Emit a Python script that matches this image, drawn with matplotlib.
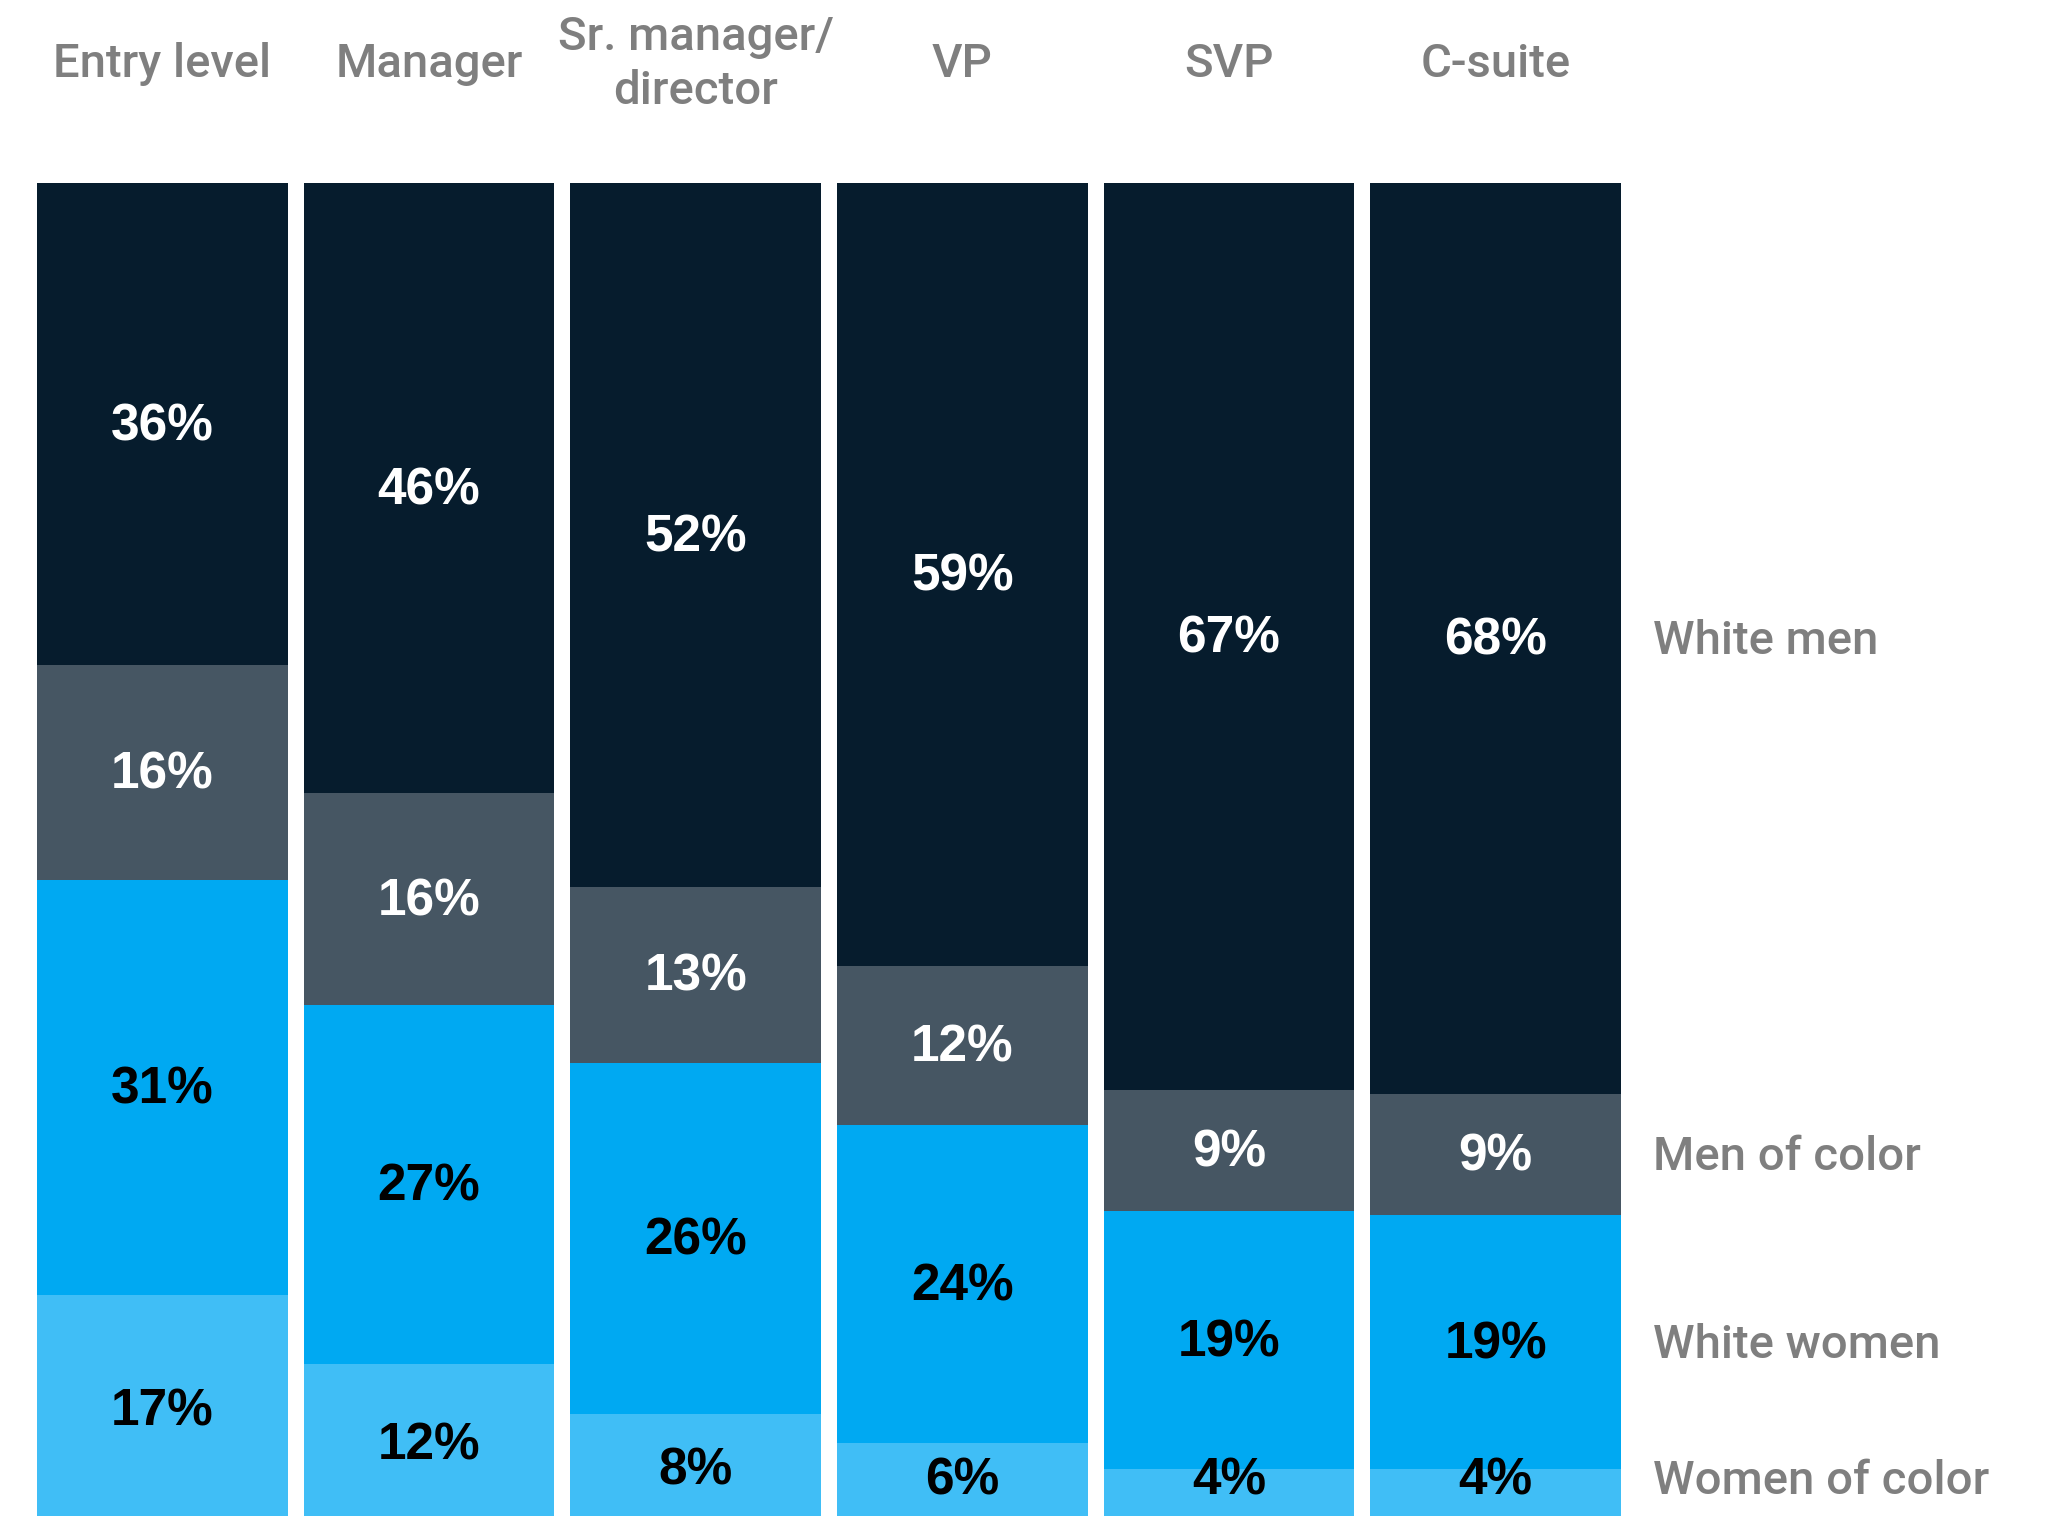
import matplotlib
matplotlib.use("Agg")
import matplotlib.pyplot as plt
import numpy as np

categories = ["Entry level", "Manager", "Sr. manager/\ndirector", "VP", "SVP", "C-suite"]
series_names = ["White men", "Men of color", "White women", "Women of color"]
white_men = [36, 46, 52, 59, 67, 68]
men_of_color = [16, 16, 13, 12, 9, 9]
white_women = [31, 27, 26, 24, 19, 19]
women_of_color = [17, 12, 8, 6, 4, 4]

colors = ["#061c2d", "#465663", "#00a9f2", "#40bef6"]
text_colors = ["white", "white", "black", "black"]
gray = "#7f7f7f"

plt.rcParams['font.family'] = ['Roboto', 'DejaVu Sans']

fig = plt.figure(figsize=(20.45, 15.16), dpi=100)
W, H = 2045, 1516
left_px, right_px, top_px = 37, 1621, 183
ax = fig.add_axes([left_px / W, 0, (right_px - left_px) / W, 1 - top_px / H])

data = np.array([white_men, men_of_color, white_women, women_of_color], dtype=float)
data = data / data.sum(axis=0) * 100  # 100% stacked
labels = np.array([white_men, men_of_color, white_women, women_of_color])
x = np.arange(len(categories))
bw = 0.94
max_label_y = 96.9  # keep labels inside the visible (cropped) area
bottom = np.zeros(len(categories))
for i in range(4):
    ax.bar(x, data[i], bottom=bottom, width=bw, color=colors[i], linewidth=0)
    for j in range(len(categories)):
        ly = min(bottom[j] + data[i][j] / 2 + 0.2, max_label_y)
        ax.text(x[j], ly, f"{labels[i][j]}%", ha="center", va="center",
                color=text_colors[i], fontsize=37, fontweight="bold",
                family=['Liberation Sans', 'DejaVu Sans'])
    # right-side series label at center of last bar segment
    ly = min(bottom[-1] + data[i][-1] / 2 + 0.2, max_label_y)
    ax.text(len(categories) - 1 + bw / 2 + 0.12, ly, series_names[i],
            ha="left", va="center", color=gray, fontsize=34, fontweight="medium", clip_on=False)
    bottom += data[i]

ax.set_xlim(-bw / 2, len(categories) - 1 + bw / 2)
ax.set_ylim(99.5, 0)
ax.axis("off")

for j, c in enumerate(categories):
    ax.text(x[j], -8.9, c, ha="center", va="center", color=gray, fontsize=34,
            fontweight="medium", linespacing=1.3, clip_on=False)

fig.savefig("out.png", dpi=100, facecolor="white")
